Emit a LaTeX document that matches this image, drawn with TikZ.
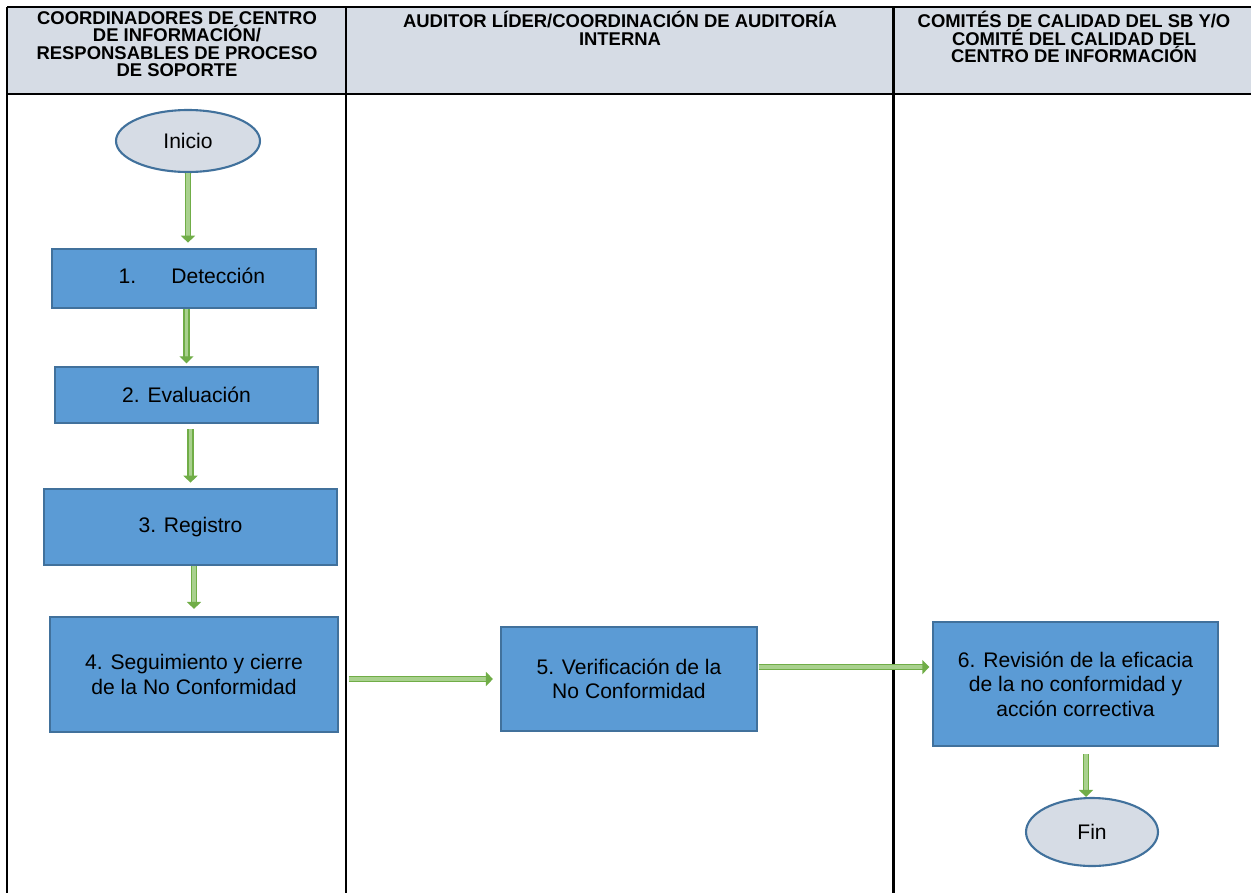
\documentclass[tikz,border=0pt]{standalone}
\usepackage{fontspec}
\setmainfont{Liberation Sans}
\usetikzlibrary{arrows.meta,shapes.geometric}
\definecolor{azul}{HTML}{5B9BD5}
\definecolor{azulborde}{HTML}{41719C}
\definecolor{gris}{HTML}{D6DCE5}
\definecolor{verde}{HTML}{70AD47}
\definecolor{verdeclaro}{HTML}{A9D18E}

\begin{document}
\begin{tikzpicture}[x=0.02cm, y=-0.02cm,
		caja/.style={draw=azulborde, fill=azul, line width=1.2pt, align=center, inner sep=0pt, font=\fontsize{12}{14}\selectfont},
		inifin/.style={ellipse, draw=azulborde, fill=gris, line width=1.2pt, inner sep=0pt, font=\fontsize{12}{14}\selectfont},
		titulo/.style={anchor=north, align=center, inner sep=0pt, font=\bfseries\fontsize{10.5}{10}\selectfont},
		flecha/.style={draw=verde, double=verdeclaro, double distance=2pt, line width=0.8pt, -{Triangle[length=4pt,width=8pt]}}]
	\def \w{1251};
	\def \h{893};
	\useasboundingbox (0, 0) rectangle (\w, \h);
	% encabezado
	\fill[gris] (7, 7) rectangle (\w, 94);
	\draw[line width=1.7pt] (7, 7) -- (\w, 7);
	\draw[line width=1.7pt] (7, 94) -- (\w, 94);
	\draw[line width=1.7pt] (7, 7) -- (7, \h);
	\draw[line width=1.7pt] (346, 7) -- (346, \h);
	\draw[line width=1.7pt] (893, 7) -- (893, \h);
	\node[titulo] (t1) at (177, 11) {COORDINADORES DE CENTRO\\DE INFORMACIÓN/\\RESPONSABLES DE PROCESO\\DE SOPORTE};
	\node[titulo] (t2) at (620, 11) {AUDITOR LÍDER/COORDINACIÓN DE AUDITORÍA\\INTERNA};
	\node[titulo] (t3) at (1074, 11) {COMITÉS DE CALIDAD DEL SB Y/O\\COMITÉ DEL CALIDAD DEL\\CENTRO DE INFORMACIÓN};
	% pasos
	\node[inifin, minimum width=2.88cm, minimum height=1.24cm] (inicio) at (188, 141) {Inicio};
	\node[caja, minimum width=5.28cm, minimum height=1.18cm] (d1) at (184, 278.5) {\raisebox{3.4pt}{1.\hspace{20pt}Detección}\hspace{-9pt}};
	\node[caja, minimum width=5.26cm, minimum height=1.12cm] (d2) at (186.5, 395) {2. Evaluación};
	\node[caja, minimum width=5.86cm, minimum height=1.52cm] (d3) at (190.5, 527) {3. Registro};
	\node[caja, minimum width=5.76cm, minimum height=2.30cm] (d4) at (194, 674.5) {4. Seguimiento y cierre\\de la No Conformidad};
	\node[caja, minimum width=5.12cm, minimum height=2.08cm] (d5) at (629, 679) {5. Verificación de la\\No Conformidad};
	\node[caja, minimum width=5.70cm, minimum height=2.48cm] (d6) at (1075.5, 684) {6. Revisión de la eficacia\\de la no conformidad y\\acción correctiva};
	\node[inifin, minimum width=2.64cm, minimum height=1.36cm] (fin) at (1092, 832) {Fin};
	% flechas
	\coordinate (s6) at ([yshift=6.8pt]d5.east);
	\coordinate (s7) at ([xshift=-3.4pt]fin.north);
	\draw[flecha, shorten >=3pt] (inicio.south) -- (inicio.south |- d1.north);
	\draw[flecha, shorten >=1.5pt] (d1.south -| d2.north) -- (d2.north);
	\draw[flecha, shorten <=3pt, shorten >=3pt] (d2.south -| d3.north) -- (d3.north);
	\draw[flecha, shorten >=4pt] (d3.south -| d4.north) -- (d4.north);
	\draw[flecha, shorten <=5.5pt, shorten >=4pt] (d4.east |- d5.west) -- (d5.west);
	\draw[flecha, shorten <=0.5pt, shorten >=1.5pt] (s6) -- (s6 -| d6.west);
	\draw[flecha, shorten <=4pt] (d6.south -| s7) -- (s7);
\end{tikzpicture}
\end{document}
